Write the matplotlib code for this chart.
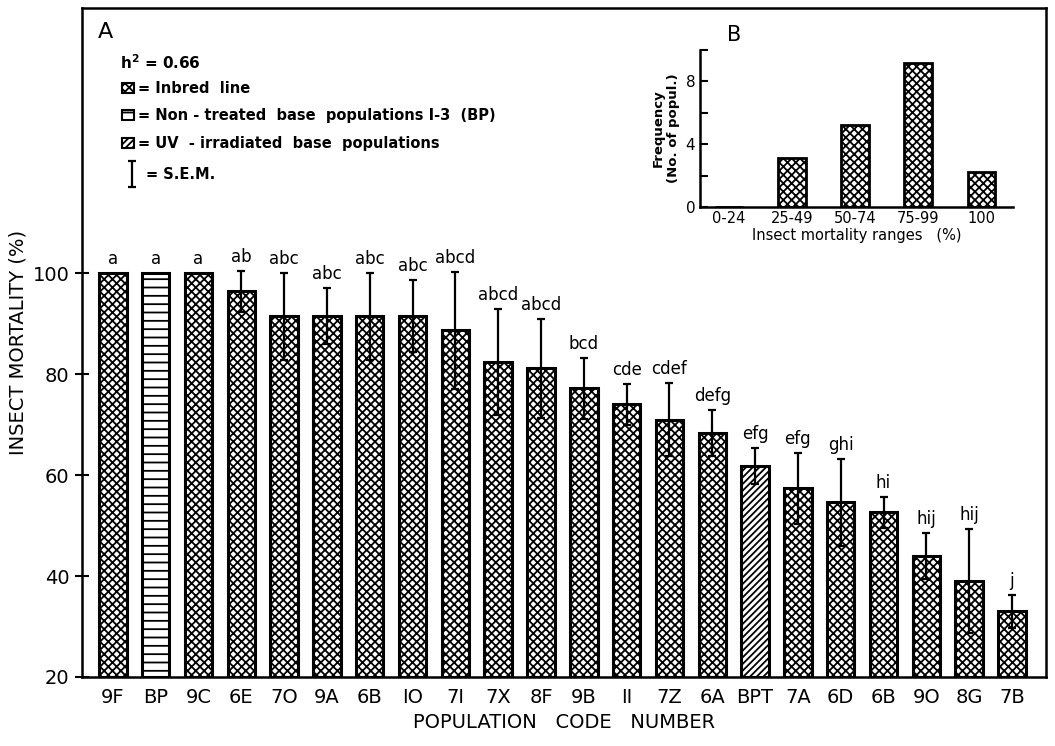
import numpy as np
import matplotlib.pyplot as plt
from matplotlib.patches import Rectangle

# values
codes = ['9F', 'BP', '9C', '6E', '7O', '9A', '6B', 'IO', '7I', '7X', '8F',
         '9B', 'II', '7Z', '6A', 'BPT', '7A', '6D', '6B', '9O', '8G', '7B']
mortality = [100, 100, 100, 96.4, 91.5, 91.5, 91.5, 91.5, 88.7, 82.4, 81.2,
             77.2, 74.0, 71.0, 68.3, 61.8, 57.4, 54.6, 52.6, 44.0, 39.0, 33.0]
sem = [0, 0, 0, 4.0, 8.6, 5.6, 8.6, 7.2, 11.6, 10.5, 9.8,
       6.0, 4.1, 7.2, 4.6, 3.6, 7.0, 8.6, 3.1, 4.6, 10.3, 3.2]
groups = ['a', 'a', 'a', 'ab', 'abc', 'abc', 'abc', 'abc', 'abcd', 'abcd', 'abcd',
          'bcd', 'cde', 'cdef', 'defg', 'efg', 'efg', 'ghi', 'hi', 'hij', 'hij', 'j']
kind = ['inbred', 'bp', 'inbred', 'inbred', 'inbred', 'inbred', 'inbred', 'inbred',
        'inbred', 'inbred', 'inbred', 'inbred', 'inbred', 'inbred', 'inbred', 'uv',
        'inbred', 'inbred', 'inbred', 'inbred', 'inbred', 'inbred']

ranges = ['0-24', '25-49', '50-74', '75-99', '100']
freq = [0, 3.1, 5.2, 9.2, 2.2]

hatches = {'inbred': 'xxxx', 'bp': '--', 'uv': '/////'}

plt.rcParams['hatch.linewidth'] = 1.3
plt.rcParams['font.family'] = 'DejaVu Sans'

fig = plt.figure(figsize=(10.55, 7.46), dpi=100)
ax = fig.add_axes([0.0777, 0.0925, 0.914, 0.8965])

x = np.arange(len(codes))
for i in range(len(codes)):
    ax.bar(x[i], mortality[i] - 20, bottom=20, width=0.64, color='white',
           edgecolor='black', linewidth=2.2, hatch=hatches[kind[i]], zorder=2)
    if sem[i] > 0:
        ax.errorbar(x[i], mortality[i], yerr=sem[i], color='black', lw=1.6,
                    capsize=3, capthick=1.6, zorder=3)
    ax.text(x[i], mortality[i] + sem[i] + 1.0, groups[i], ha='center', va='bottom',
            fontsize=12)

ax.set_xlim(-0.72, 21.8)
ax.set_ylim(20, 152.5)
ax.set_yticks([20, 40, 60, 80, 100])
ax.set_xticks(x)
ax.set_xticklabels(codes, fontsize=14)
ax.tick_params(axis='x', length=0, pad=8)
ax.tick_params(axis='y', direction='inout', length=10, width=1.5, labelsize=14, pad=4)
for s in ax.spines.values():
    s.set_linewidth(1.8)
ax.set_ylabel('INSECT MORTALITY (%)', fontsize=14, labelpad=4)
ax.set_xlabel('POPULATION   CODE   NUMBER', fontsize=14, labelpad=4)

# hand drawn legend (panel A)
ax.text(0.016, 0.964, 'A', transform=ax.transAxes, fontsize=16, va='center')
ax.text(0.039, 0.919, r'h$^\mathbf{2}$ = 0.66', transform=ax.transAxes, fontsize=11,
        fontweight='bold', va='center')
rows = [('inbred', '= Inbred  line', 0.880),
        ('bp', '= Non - treated  base  populations I-3  (BP)', 0.840),
        ('uv', '= UV  - irradiated  base  populations', 0.798)]
for k, label, yy in rows:
    ax.add_patch(Rectangle((0.041, yy - 0.007), 0.013, 0.015, transform=ax.transAxes,
                           facecolor='white', edgecolor='black', lw=1.5, hatch=hatches[k]))
    ax.text(0.058, yy, label, transform=ax.transAxes, fontsize=10.5,
            fontweight='bold', va='center')
ax.errorbar([0.052], [0.752], yerr=[0.02], transform=ax.transAxes, color='black',
            lw=1.6, capsize=3, capthick=1.6)
ax.text(0.066, 0.752, '= S.E.M.', transform=ax.transAxes, fontsize=10.5,
        fontweight='bold', va='center')

# inset (panel B)
axb = fig.add_axes([0.6635, 0.7225, 0.2967, 0.2105])
axb.bar(np.arange(len(ranges)), freq, width=0.44, color='white', edgecolor='black',
        linewidth=2.0, hatch='xxxx')
axb.set_xlim(-0.46, 4.5)
axb.set_ylim(0, 10)
axb.set_yticks([0, 2, 4, 6, 8, 10])
axb.set_yticklabels(['0', '', '4', '', '8', ''])
axb.set_xticks(np.arange(len(ranges)))
axb.set_xticklabels(ranges, fontsize=10.5)
axb.tick_params(axis='x', length=0, pad=3)
axb.tick_params(axis='y', direction='in', length=6, width=1.5, labelsize=11)
axb.spines['top'].set_visible(False)
axb.spines['right'].set_visible(False)
axb.spines['left'].set_linewidth(1.8)
axb.spines['bottom'].set_linewidth(1.8)
axb.set_ylabel('Frequency\n(No. of popul.)', fontsize=9.5, fontweight='bold', labelpad=4)
axb.set_xlabel('Insect mortality ranges   (%)', fontsize=10.5, labelpad=1)
axb.text(0.11, 1.095, 'B', transform=axb.transAxes, fontsize=15, ha='center', va='center')

fig.savefig('out.png', dpi=100)
